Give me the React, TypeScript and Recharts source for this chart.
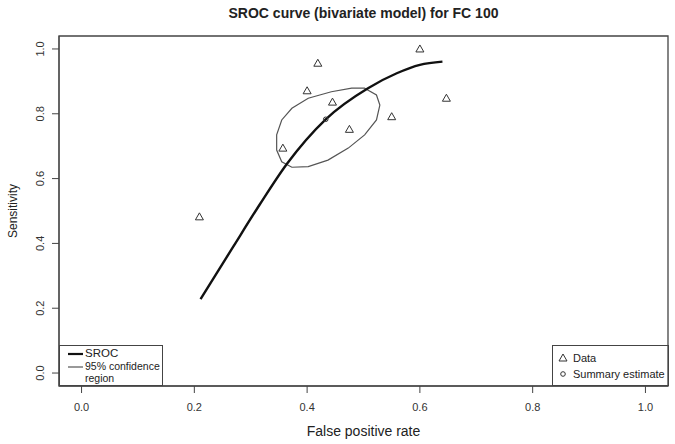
import React from "react";
import {
  ComposedChart,
  Line,
  Scatter,
  XAxis,
  YAxis,
  ReferenceArea,
} from "recharts";

// study points (FPR, sensitivity)
const dataFpr = [0.209, 0.357, 0.419, 0.4, 0.445, 0.475, 0.55, 0.6, 0.647];
const dataSens = [0.482, 0.694, 0.956, 0.871, 0.836, 0.752, 0.791, 1.0, 0.848];

const summaryFpr = [0.433];
const summarySens = [0.783];

// SROC curve
const srocFpr = [0.211, 0.269, 0.316, 0.364, 0.433, 0.508, 0.559, 0.6, 0.64];
const srocSens = [0.228, 0.39, 0.52, 0.645, 0.783, 0.879, 0.925, 0.951, 0.961];

// 95% confidence region outline
const regionFpr = [
  0.502, 0.523, 0.529, 0.523, 0.502, 0.473, 0.437, 0.402, 0.373, 0.355, 0.346,
  0.346, 0.355, 0.373, 0.402, 0.443, 0.479,
];
const regionSens = [
  0.879, 0.858, 0.827, 0.781, 0.735, 0.694, 0.657, 0.637, 0.635, 0.652, 0.688,
  0.735, 0.781, 0.817, 0.848, 0.868, 0.879,
];

const ticks = [0, 0.2, 0.4, 0.6, 0.8, 1.0];

const zip = (xs: number[], ys: number[]) => xs.map((x, i) => ({ x, y: ys[i] }));

const points = zip(dataFpr, dataSens);
const summary = zip(summaryFpr, summarySens);
const sroc = zip(srocFpr, srocSens);
const region = zip(regionFpr, regionSens);

const FONT = "'Liberation Sans', Arial, Helvetica, sans-serif";

const Triangle = ({ cx, cy }: any) => (
  <polygon
    points={`${cx},${cy - 4} ${cx - 4},${cy + 3} ${cx + 4},${cy + 3}`}
    fill="none"
    stroke="#333"
    strokeWidth={1}
  />
);

const Dot = ({ cx, cy }: any) => (
  <circle cx={cx} cy={cy} r={2.3} fill="none" stroke="#333" strokeWidth={1} />
);

const YTick = ({ y, payload }: any) => (
  <text
    transform={`translate(44,${y}) rotate(-90)`}
    textAnchor="middle"
    fontSize={11}
    fill="#333"
  >
    {Number(payload.value).toFixed(1)}
  </text>
);

export default function App() {
  return (
    <div
      style={{
        position: "absolute",
        left: 0,
        top: 0,
        width: 675,
        height: 444,
        background: "#fff",
        fontFamily: FONT,
        color: "#222",
      }}
    >
      <div
        style={{
          position: "absolute",
          left: 59,
          width: 609,
          top: 5,
          textAlign: "center",
          fontSize: 14,
          lineHeight: "16px",
          fontWeight: "bold",
        }}
      >
        SROC curve (bivariate model) for FC 100
      </div>
      <ComposedChart
        width={675}
        height={444}
        margin={{ top: 36, right: 7, bottom: 0, left: 0 }}
      >
        <XAxis
          type="number"
          dataKey="x"
          domain={[-0.04, 1.04]}
          ticks={ticks}
          tickFormatter={(v) => Number(v).toFixed(1)}
          tickSize={7}
          tickMargin={10}
          height={58}
          stroke="#444"
          tick={{ fontSize: 11, fill: "#333" }}
          allowDataOverflow
          label={{
            value: "False positive rate",
            position: "insideBottom",
            offset: 8,
            fontSize: 14,
            fill: "#222",
          }}
        />
        <YAxis
          type="number"
          dataKey="y"
          domain={[-0.04, 1.04]}
          ticks={ticks}
          tickSize={7}
          width={59}
          stroke="#444"
          tick={<YTick />}
          allowDataOverflow
          label={{
            value: "Sensitivity",
            angle: -90,
            position: "insideLeft",
            offset: 13,
            fontSize: 12,
            fill: "#222",
            style: { textAnchor: "middle" },
          }}
        />
        <ReferenceArea
          x1={-0.04}
          x2={1.04}
          y1={-0.04}
          y2={1.04}
          fill="none"
          stroke="#444"
          strokeWidth={1.3}
          fillOpacity={0}
        />
        <Line
          data={region}
          dataKey="y"
          type="linearClosed"
          stroke="#555"
          strokeWidth={1.2}
          dot={false}
          activeDot={false}
          isAnimationActive={false}
        />
        <Line
          data={sroc}
          dataKey="y"
          type="monotone"
          stroke="#111"
          strokeWidth={2.4}
          dot={false}
          activeDot={false}
          isAnimationActive={false}
        />
        <Scatter data={points} shape={<Triangle />} isAnimationActive={false} />
        <Scatter data={summary} shape={<Dot />} isAnimationActive={false} />
      </ComposedChart>

      {/* legend, bottom left */}
      <div
        style={{
          position: "absolute",
          left: 59,
          top: 345,
          width: 104,
          height: 41,
          border: "1px solid #444",
          boxSizing: "border-box",
          fontSize: 10.5,
          lineHeight: "11.5px",
          whiteSpace: "nowrap",
        }}
      >
        <svg width={20} height={40} style={{ position: "absolute", left: 6, top: 0 }}>
          <line x1={2} x2={17} y1={8} y2={8} stroke="#111" strokeWidth={2.2} />
          <line x1={2} x2={17} y1={21} y2={21} stroke="#555" strokeWidth={1.2} />
        </svg>
        <div style={{ position: "absolute", left: 25, top: 2, fontSize: 11.5 }}>SROC</div>
        <div style={{ position: "absolute", left: 25, top: 15 }}>
          95% confidence
          <br />
          region
        </div>
      </div>

      {/* legend, bottom right */}
      <div
        style={{
          position: "absolute",
          left: 552,
          top: 345,
          width: 117,
          height: 41,
          border: "1px solid #444",
          boxSizing: "border-box",
          fontSize: 11,
          lineHeight: "12px",
          whiteSpace: "nowrap",
        }}
      >
        <svg width={16} height={40} style={{ position: "absolute", left: 3, top: 0 }}>
          <polygon points="7,8 3,15 11,15" fill="none" stroke="#333" strokeWidth={1} />
          <circle cx={7} cy={28} r={2.3} fill="none" stroke="#333" strokeWidth={1} />
        </svg>
        <div style={{ position: "absolute", left: 20, top: 6 }}>Data</div>
        <div style={{ position: "absolute", left: 20, top: 22 }}>Summary estimate</div>
      </div>
    </div>
  );
}
